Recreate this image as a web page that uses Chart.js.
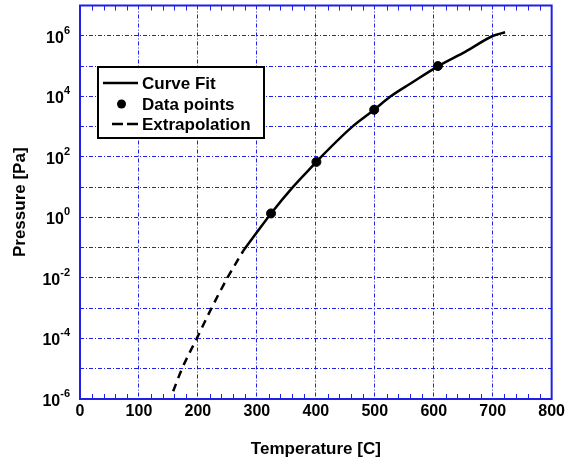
<!DOCTYPE html>
<html>
<head>
<meta charset="utf-8">
<script src="https://cdn.jsdelivr.net/npm/chart.js@4/dist/chart.umd.min.js"></script>
<style>
  html, body { margin: 0; padding: 0; background: #fff; }
  #wrap { width: 568px; height: 464px; }
</style>
</head>
<body>
<div id="wrap"><canvas id="pressureChart" width="568" height="464"></canvas></div>
<script>
// Curve fit (solid)
const fitTemps = [277, 300, 324, 361, 401, 409, 462, 499, 527, 560, 607, 654, 701, 721];
const fitPressures = [0.079, 0.32, 1.35, 10, 68, 100, 1000, 3600, 1e4, 2.6e4, 9.8e4, 3.0e5, 1e6, 1.3e6];

// Extrapolation (dashed)
const extTemps = [158, 173, 198, 223, 250, 277];
const extPressures = [1.8e-6, 1e-5, 1e-4, 1e-3, 1e-2, 0.079];

// Measured data points
const dataTemps = [324, 401, 499, 607];
const dataPressures = [1.35, 68, 3600, 1.0e5];

// Axis ticks
const xTickValues = [0, 100, 200, 300, 400, 500, 600, 700, 800];
const yGridExps = [-6, -5, -4, -3, -2, -1, 0, 1, 2, 3, 4, 5, 6, 7];
const yLabelExps = [-6, -4, -2, 0, 2, 4, 6];

const BLUE = '#1f1fe6';
const FONT = "'Liberation Sans', Arial, sans-serif";

function toPoints(xs, ys) {
  return xs.map((x, i) => ({ x: x, y: ys[i] }));
}

// Frame, minor ticks, y labels with superscripts and the boxed legend
const decorPlugin = {
  id: 'decor',
  afterDatasetsDraw(chart) {
    const ctx = chart.ctx;
    const area = chart.chartArea;
    const xs = chart.scales.x;
    const ys = chart.scales.y;
    ctx.save();

    // minor ticks on x (bottom and top, pointing inside)
    ctx.strokeStyle = BLUE;
    ctx.lineWidth = 1;
    for (let v = 20; v < 800; v += 20) {
      if (v % 100 === 0) continue;
      const px = Math.round(xs.getPixelForValue(v)) + 0.5;
      ctx.beginPath();
      ctx.moveTo(px, area.bottom);
      ctx.lineTo(px, area.bottom - 5);
      ctx.moveTo(px, area.top);
      ctx.lineTo(px, area.top + 5);
      ctx.stroke();
    }

    // frame
    ctx.lineWidth = 2;
    ctx.strokeStyle = BLUE;
    ctx.strokeRect(area.left, area.top, area.right - area.left, area.bottom - area.top);

    // y labels 10^n
    ctx.fillStyle = '#000';
    yLabelExps.forEach(e => {
      const py = ys.getPixelForValue(Math.pow(10, e));
      const exp = String(e).replace('-', '-');
      ctx.font = 'bold 11px ' + FONT;
      const ew = ctx.measureText(exp).width;
      ctx.textAlign = 'left';
      ctx.textBaseline = 'alphabetic';
      ctx.fillText(exp, 70 - ew, py - 2);
      ctx.font = 'bold 16px ' + FONT;
      ctx.textAlign = 'right';
      ctx.fillText('10', 70 - ew, py + 7);
    });

    // legend box
    const bx = 98, by = 67, bw = 166, bh = 71;
    ctx.fillStyle = '#fff';
    ctx.fillRect(bx, by, bw, bh);
    ctx.strokeStyle = '#000';
    ctx.lineWidth = 2;
    ctx.strokeRect(bx, by, bw, bh);

    const rows = [83, 104, 124];
    const labels = chart.data.datasets.map(d => d.label);
    ctx.font = 'bold 17px ' + FONT;
    ctx.fillStyle = '#000';
    ctx.textAlign = 'left';
    ctx.textBaseline = 'middle';
    labels.forEach((t, i) => ctx.fillText(t, 142, rows[i] + 1));

    ctx.lineWidth = 2.5;
    ctx.beginPath();
    ctx.moveTo(103, rows[0]);
    ctx.lineTo(138, rows[0]);
    ctx.stroke();

    ctx.beginPath();
    ctx.arc(121.5, rows[1], 4.5, 0, Math.PI * 2);
    ctx.fill();

    ctx.setLineDash([11, 4]);
    ctx.beginPath();
    ctx.moveTo(112, rows[2]);
    ctx.lineTo(138, rows[2]);
    ctx.stroke();
    ctx.setLineDash([]);

    ctx.restore();
  }
};

const config = {
  type: 'scatter',
  data: {
    datasets: [
      {
        label: 'Curve Fit',
        data: toPoints(fitTemps, fitPressures),
        showLine: true,
        borderColor: '#000',
        borderWidth: 2.5,
        pointRadius: 0,
        cubicInterpolationMode: 'monotone'
      },
      {
        label: 'Data points',
        data: toPoints(dataTemps, dataPressures),
        showLine: false,
        backgroundColor: '#000',
        borderColor: '#000',
        pointRadius: 4.5
      },
      {
        label: 'Extrapolation',
        data: toPoints(extTemps, extPressures),
        showLine: true,
        borderColor: '#000',
        borderWidth: 2.5,
        borderDash: [8, 6],
        pointRadius: 0,
        cubicInterpolationMode: 'monotone'
      }
    ]
  },
  options: {
    responsive: false,
    animation: false,
    layout: { padding: { top: 5, right: 15, left: 0, bottom: 0 } },
    plugins: {
      legend: { display: false },
      tooltip: { enabled: false }
    },
    scales: {
      x: {
        type: 'linear',
        min: 0,
        max: 800,
        afterBuildTicks: s => { s.ticks = xTickValues.map(v => ({ value: v })); },
        afterFit: s => { s.height = 65; },
        ticks: {
          color: '#000',
          font: { family: FONT, size: 16, weight: 'bold' },
          padding: 3,
          maxRotation: 0,
          autoSkip: false
        },
        grid: { color: BLUE, lineWidth: 1, drawTicks: false },
        border: { display: false, dash: [4, 2, 1, 2] },
        title: {
          display: true,
          text: 'Temperature [C]',
          color: '#000',
          font: { family: FONT, size: 17, weight: 'bold' },
          padding: { top: 0, bottom: 4 }
        }
      },
      y: {
        type: 'logarithmic',
        min: 1e-6,
        max: 1e7,
        afterBuildTicks: s => { s.ticks = yGridExps.map(e => ({ value: Math.pow(10, e) })); },
        afterFit: s => { s.width = 80; },
        ticks: { display: false },
        grid: { color: BLUE, lineWidth: 1, drawTicks: false },
        border: { display: false, dash: [4, 2, 1, 2] },
        title: {
          display: true,
          text: 'Pressure [Pa]',
          color: '#000',
          font: { family: FONT, size: 17, weight: 'bold' },
          padding: { top: 10, bottom: 0 }
        }
      }
    }
  },
  plugins: [decorPlugin]
};

new Chart(document.getElementById('pressureChart'), config);
</script>
</body>
</html>
